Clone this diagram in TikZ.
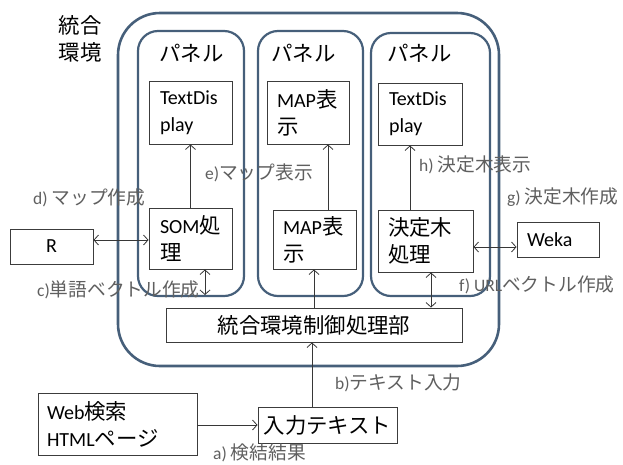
\documentclass[tikz,border=0pt]{standalone}
\usepackage{fontspec}
\setmainfont{Carlito}
\newfontfamily\jp[Scale=1.07]{Noto Sans CJK JP}
\usetikzlibrary{arrows.meta}
\newcommand{\J}[1]{{\jp #1}}
\definecolor{frame}{RGB}{70,95,122}
\definecolor{boxline}{RGB}{60,60,60}
\definecolor{labelcol}{RGB}{95,95,95}
\definecolor{arrcol}{RGB}{55,55,55}
\tikzset{
  boxfont/.style={font=\fontsize{20}{27}\selectfont},
  box/.style={draw=boxline, line width=0.9pt, inner sep=0pt, rectangle, boxfont},
  panelbox/.style={draw=frame, line width=2.2pt, rounded corners=20pt},
  outerbox/.style={draw=frame, line width=2.6pt, rounded corners=42pt},
  lbl/.style={font=\fontsize{17.5}{20}\selectfont, text=labelcol, inner sep=0pt, anchor=west},
  arr/.style={draw=arrcol, line width=0.8pt, -{Straight Barb[length=4.5pt,width=10pt]}},
  biarr/.style={draw=arrcol, line width=0.8pt, {Straight Barb[length=4.5pt,width=10pt]}-{Straight Barb[length=4.5pt,width=10pt]}}
}
\begin{document}
\begin{tikzpicture}[x=1pt,y=-1pt]
\useasboundingbox (0,0) rectangle (623,464);
% outer environment and panels
\draw[outerbox] (118,13) rectangle (499,366);
\draw[panelbox] (138,31) rectangle (244,296);
\draw[panelbox] (258,31) rectangle (363,296);
\draw[panelbox] (371,33) rectangle (490,296);
\node[boxfont, align=center, inner sep=0pt] (env) at (80,38.5) {\J{統合}\\\J{環境}};
\node[boxfont, inner sep=0pt, anchor=west] (p1) at (159,53) {\J{パネル}};
\node[boxfont, inner sep=0pt, anchor=west] (p2) at (271,53) {\J{パネル}};
\node[boxfont, inner sep=0pt, anchor=west] (p3) at (387,53) {\J{パネル}};
% boxes
\node[box, minimum width=83pt, minimum height=63pt, text width=61pt, align=left] (td1) at (190.5,112.5) {TextDis\\play};
\node[box, minimum width=82pt, minimum height=63pt, text width=62pt, align=left] (map1) at (308,112.5) {MAP\J{表}\\\J{示}};
\node[box, minimum width=84pt, minimum height=62pt, text width=62pt, align=left] (td3) at (420,114) {TextDis\\play};
\node[box, minimum width=83pt, minimum height=61pt, text width=61pt, align=left] (som) at (190.5,238.5) {SOM\J{処}\\\J{理}};
\node[box, minimum width=83pt, minimum height=59pt, text width=63pt, align=left] (map2) at (314.5,239.5) {MAP\J{表}\\\J{示}};
\node[box, minimum width=95pt, minimum height=62pt, text width=75pt, align=left] (tree) at (425.5,241) {\J{決定木}\\\J{処理}};
\node[box, minimum width=83pt, minimum height=35pt] (R) at (51.5,246.5) {R};
\node[box, minimum width=82pt, minimum height=35pt, text width=62pt, align=left] (weka) at (558,239.5) {Weka};
\node[box, minimum width=296pt, minimum height=34pt] (ctrl) at (314,325) {\J{統合環境制御処理部}};
\node[box, minimum width=159pt, minimum height=62pt, text width=141pt, align=left] (web) at (117.5,424) {Web\J{検索}\\HTML\J{ページ}};
\node[box, minimum width=139pt, minimum height=36pt] (input) at (327.5,425) {\J{入力テキスト}};
% helper coordinates
\coordinate (xmap) at (328,0);
\coordinate (xtree) at (410,0);
\coordinate (xtc) at (431,0);
\coordinate (xin) at (312,0);
\coordinate (yrs) at (0,240);
\coordinate (ytw) at (0,247);
\coordinate (ywi) at (0,425);
\coordinate (somend) at (205,295);
% connectors
\draw[arr] (som.north) -- (som.north |- td1.south);
\draw[arr] (map2.north -| xmap) -- (map1.south -| xmap);
\draw[arr] (tree.north -| xtree) -- (td3.south -| xtree);
\draw[biarr] (R.east |- yrs) -- (som.west |- yrs);
\draw[biarr] (som.south -| somend) -- (somend);
\draw[arr] (ctrl.north) -- (ctrl.north |- map2.south);
\draw[biarr] (tree.south -| xtc) -- (ctrl.north -| xtc);
\draw[biarr] (tree.east |- ytw) -- (weka.west |- ytw);
\draw[arr] (input.north -| xin) -- (ctrl.south -| xin);
\draw[arr] (web.east |- ywi) -- (input.west |- ywi);
% labels
\node[lbl] (ld) at (33,198) {d) \J{マップ作成}};
\node[lbl] (le) at (205,173) {e)\J{マップ表示}};
\node[lbl] (lc) at (37,290) {c)\J{単語ベクトル作成}};
\node[lbl] (lh) at (419,165) {h) \J{決定木表示}};
\node[lbl] (lg) at (507,197) {g) \J{決定木作成}};
\node[lbl] (lf) at (459,285) {f) URL\J{ベクトル作成}};
\node[lbl] (lb) at (335,383) {b)\J{テキスト入力}};
\node[lbl] (la) at (213,453) {a) \J{検結結果}};
\end{tikzpicture}
\end{document}
